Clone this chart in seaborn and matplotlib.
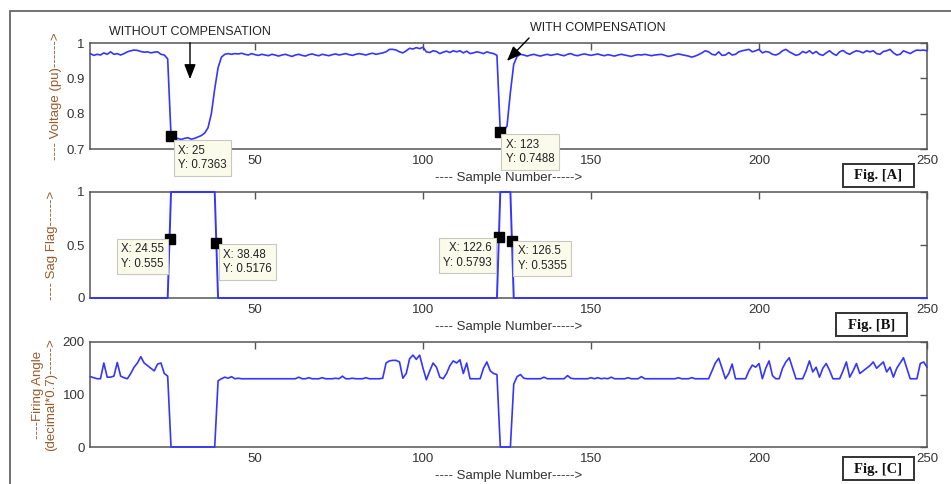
import numpy as np
import pandas as pd
import seaborn as sns
import matplotlib
matplotlib.use("Agg")
import matplotlib.pyplot as plt
from matplotlib.patches import Rectangle

# ---------------- data ----------------
samples = list(range(1, 251))

voltage = [
    0.970, 0.965, 0.968, 0.966, 0.972, 0.968, 0.975, 0.968, 0.970, 0.966,
    0.970, 0.975, 0.978, 0.980, 0.979, 0.976, 0.974, 0.975, 0.972, 0.974,
    0.975, 0.968, 0.966, 0.955, 0.7363, 0.728, 0.730, 0.727, 0.730, 0.732,
    0.728, 0.730, 0.734, 0.738, 0.745, 0.760, 0.800, 0.870, 0.930, 0.960,
    0.968, 0.970, 0.968, 0.970, 0.969, 0.971, 0.968, 0.966, 0.970, 0.967,
    0.965, 0.968, 0.966, 0.964, 0.968, 0.966, 0.963, 0.966, 0.968, 0.965,
    0.962, 0.966, 0.968, 0.965, 0.963, 0.967, 0.969, 0.966, 0.964, 0.968,
    0.966, 0.964, 0.967, 0.969, 0.966, 0.968, 0.970, 0.967, 0.965, 0.968,
    0.970, 0.968, 0.966, 0.969, 0.971, 0.968, 0.970, 0.972, 0.975, 0.982,
    0.982, 0.980, 0.975, 0.972, 0.978, 0.985, 0.983, 0.987, 0.984, 0.988,
    0.975, 0.973, 0.978, 0.976, 0.970, 0.974, 0.977, 0.973, 0.978, 0.975,
    0.978, 0.972, 0.977, 0.970, 0.972, 0.975, 0.973, 0.970, 0.975, 0.972,
    0.970, 0.965, 0.7488, 0.752, 0.765, 0.860, 0.940, 0.962, 0.968, 0.966,
    0.963, 0.966, 0.968, 0.965, 0.963, 0.966, 0.968, 0.965, 0.967, 0.969,
    0.966, 0.964, 0.968, 0.970, 0.966, 0.964, 0.967, 0.969, 0.967, 0.965,
    0.967, 0.969, 0.966, 0.964, 0.967, 0.965, 0.963, 0.966, 0.968, 0.966,
    0.964, 0.962, 0.965, 0.967, 0.966, 0.968, 0.966, 0.964, 0.966, 0.967,
    0.968, 0.965, 0.962, 0.964, 0.967, 0.969, 0.967, 0.965, 0.963, 0.960,
    0.963, 0.967, 0.972, 0.978, 0.975, 0.968, 0.966, 0.975, 0.965, 0.966,
    0.973, 0.966, 0.968, 0.975, 0.978, 0.980, 0.982, 0.975, 0.978, 0.982,
    0.972, 0.976, 0.974, 0.968, 0.966, 0.970, 0.978, 0.982, 0.975, 0.970,
    0.965, 0.968, 0.976, 0.972, 0.978, 0.970, 0.976, 0.968, 0.965, 0.972,
    0.978, 0.970, 0.965, 0.975, 0.979, 0.972, 0.968, 0.974, 0.978, 0.976,
    0.972, 0.978, 0.975, 0.978, 0.970, 0.968, 0.976, 0.978, 0.982, 0.972,
    0.966, 0.968, 0.978, 0.974, 0.970, 0.976, 0.980, 0.979, 0.980, 0.978,
]

sag_flag = (
    [0] * 24 + [1] * 14 + [0] * 84 + [1] * 4 + [0] * 124
)

firing_angle = [
    134, 132, 130, 130, 160, 133, 133, 135, 161, 135,
    132, 130, 140, 152, 160, 172, 160, 155, 150, 145,
    158, 160, 140, 135, 0, 0, 0, 0, 0, 0,
    0, 0, 0, 0, 0, 0, 0, 0, 126, 130,
    133, 131, 134, 130, 131, 130, 130, 130, 130, 130,
    130, 130, 130, 130, 130, 130, 130, 130, 130, 130,
    130, 130, 133, 130, 130, 132, 130, 130, 130, 132,
    130, 130, 130, 131, 130, 135, 130, 130, 131, 130,
    130, 130, 132, 130, 130, 130, 130, 131, 160, 164,
    165, 165, 162, 131, 140, 168, 175, 167, 175, 150,
    128, 145, 160, 152, 133, 130, 140, 155, 164, 160,
    166, 140, 160, 130, 130, 130, 130, 150, 162, 145,
    140, 138, 0, 0, 0, 0, 120, 134, 138, 131,
    130, 130, 130, 130, 130, 133, 130, 130, 130, 130,
    130, 130, 136, 131, 130, 130, 130, 130, 130, 132,
    130, 132, 130, 131, 130, 133, 130, 130, 130, 130,
    132, 130, 130, 130, 134, 130, 130, 130, 130, 130,
    130, 130, 130, 130, 130, 132, 130, 130, 130, 132,
    130, 130, 130, 130, 130, 145, 160, 169, 150, 130,
    140, 158, 130, 130, 130, 130, 145, 156, 152, 159,
    130, 150, 164, 136, 130, 130, 150, 162, 170, 150,
    130, 130, 130, 145, 164, 143, 152, 133, 150, 159,
    146, 130, 130, 130, 145, 162, 133, 145, 159, 140,
    145, 150, 155, 162, 150, 156, 162, 143, 152, 133,
    150, 160, 170, 150, 130, 130, 130, 159, 162, 152,
]

# data tips (x, y, label)
tips_a_x = [25, 123]
tips_a_y = [0.7363, 0.7488]
tips_b_x = [24.55, 38.48, 122.6, 126.5]
tips_b_y = [0.555, 0.5176, 0.5793, 0.5355]
tips_a_lbl = ["X: 25\nY: 0.7363", "X: 123\nY: 0.7488"]
tips_b_lbl = ["X: 24.55\nY: 0.555", "X: 38.48\nY: 0.5176",
              "X: 122.6\nY: 0.5793", "X: 126.5\nY: 0.5355"]

xticks = [50, 100, 150, 200, 250]
yticks_a = [0.7, 0.8, 0.9, 1.0]
yticks_a_lbl = ["0.7", "0.8", "0.9", "1"]
yticks_b = [0, 0.5, 1]
yticks_b_lbl = ["0", "0.5", "1"]
yticks_c = [0, 100, 200]
yticks_c_lbl = ["0", "100", "200"]

df = pd.DataFrame({"sample": samples, "voltage": voltage,
                   "flag": sag_flag, "angle": firing_angle})

# ---------------- style ----------------
sns.set_style("white")
plt.rcParams["font.family"] = ["Liberation Sans", "DejaVu Sans"]

W, H = 951, 484
fig = plt.figure(figsize=(W / 100, H / 100), dpi=100)


def fx(px):
    return px / W


def fy(py):
    return 1 - py / H


LINE = "#3535ff"
SPINE = "#555555"
TICKC = "#333333"
LABC = "#9a5a2c"
AX_L, AX_R = 90.4, 927.0


def make_axes(top, bottom):
    ax = fig.add_axes([fx(AX_L), fy(bottom), fx(AX_R) - fx(AX_L), fy(top) - fy(bottom)])
    return ax


ax_a = make_axes(43, 149)
ax_b = make_axes(192, 298)
ax_c = make_axes(342, 447)

sns.lineplot(data=df, x="sample", y="voltage", ax=ax_a, color=LINE, lw=1.2)
sns.lineplot(data=df, x="sample", y="flag", ax=ax_b, color=LINE, lw=1.4)
sns.lineplot(data=df, x="sample", y="angle", ax=ax_c, color=LINE, lw=1.2)

for ax, (lo, hi), yt, ytl in [
    (ax_a, (0.7, 1.0), yticks_a, yticks_a_lbl),
    (ax_b, (0, 1), yticks_b, yticks_b_lbl),
    (ax_c, (0, 200), yticks_c, yticks_c_lbl),
]:
    ax.set_xlim(1, 250)
    ax.set_ylim(lo, hi)
    ax.set_xticks(xticks)
    ax.set_xticklabels([str(t) for t in xticks])
    ax.set_yticks(yt)
    ax.set_yticklabels(ytl)
    ax.tick_params(direction="in", length=5, width=1, colors=SPINE,
                   labelcolor=TICKC, labelsize=9.5, top=True, right=True,
                   pad=4)
    for sp in ax.spines.values():
        sp.set_color(SPINE)
        sp.set_linewidth(1.1)
        sp.set_visible(True)
    for ln in ax.get_lines():
        ln.set_clip_on(False)
        ln.set_zorder(3)
    ax.set_xlabel("---- Sample Number----->", fontsize=9.5, color=TICKC, labelpad=4)
    ax.set_facecolor("white")


def label_x(px):
    return (px - AX_L) / (AX_R - AX_L)


ax_a.set_ylabel("---- Voltage (pu)------>", fontsize=9.5, color=LABC)
ax_a.yaxis.set_label_coords(label_x(62), 0.5)
ax_b.set_ylabel("---- Sag Flag------>", fontsize=9.5, color=LABC)
ax_b.yaxis.set_label_coords(label_x(58), 0.5)
ax_c.set_ylabel("----Firing Angle\n(decimal*0.7)------>", fontsize=9.5,
                color=LABC, linespacing=1.15)
ax_c.yaxis.set_label_coords(label_x(57), 0.5)

# data tips
box = dict(boxstyle="square,pad=0.38", fc="#fbfbec", ec="#c8c8c0", lw=0.8)
tip_offsets_a = [(5, -6), (4, -5)]
tip_offsets_b = [(-4, -3, "right"), (5, -4, "left"), (-5, -4, "right"), (4, -3, "left")]

for x, y, lbl, (dx, dy) in zip(tips_a_x, tips_a_y, tips_a_lbl, tip_offsets_a):
    ax_a.plot([x], [y], marker="s", ms=6.5, color="black", zorder=5, clip_on=False)
    ax_a.annotate(lbl, xy=(x, y), xytext=(dx, dy), textcoords="offset points",
                  ha="left", va="top", fontsize=8.3, color="#222222", bbox=box,
                  annotation_clip=False, zorder=6, linespacing=1.3)

for x, y, lbl, (dx, dy, ha) in zip(tips_b_x, tips_b_y, tips_b_lbl, tip_offsets_b):
    ax_b.plot([x], [y], marker="s", ms=6.5, color="black", zorder=5, clip_on=False)
    ax_b.annotate(lbl, xy=(x, y), xytext=(dx, dy), textcoords="offset points",
                  ha=ha, va="top", fontsize=8.3, color="#222222", bbox=box,
                  annotation_clip=False, zorder=6, linespacing=1.3)

# compensation annotations (figure-pixel placement)
fig.text(fx(190), fy(32), "WITHOUT COMPENSATION", ha="center", va="center",
         fontsize=9, color="#222222")
ax_a.annotate("", xy=(fx(190), fy(82)), xytext=(fx(190), fy(40)),
              xycoords="figure fraction", textcoords="figure fraction",
              arrowprops=dict(arrowstyle="-|>,head_length=0.9,head_width=0.35",
                              color="black", lw=1.0), annotation_clip=False)
fig.text(fx(530), fy(28), "WITH COMPENSATION", ha="left", va="center",
         fontsize=9, color="#222222")
ax_a.annotate("", xy=(fx(505), fy(63)), xytext=(fx(531), fy(36)),
              xycoords="figure fraction", textcoords="figure fraction",
              arrowprops=dict(arrowstyle="-|>,head_length=0.9,head_width=0.35",
                              color="black", lw=1.0), annotation_clip=False)

# figure tags: rectangle (pixel box) plus centred text
for (x0, y0, x1, y1), tag in [((843, 164, 914, 187), "Fig. [A]"),
                              ((836, 313, 907, 336), "Fig. [B]"),
                              ((843, 457, 914, 480), "Fig. [C]")]:
    fig.add_artist(Rectangle((fx(x0), fy(y1)), fx(x1) - fx(x0), fy(y0) - fy(y1),
                             transform=fig.transFigure, fill=True, fc="white",
                             ec="#333333", lw=1.4))
    fig.text(fx((x0 + x1) / 2), fy((y0 + y1) / 2 + 0.5), tag, ha="center",
             va="center", fontsize=10.5, fontweight="bold",
             family=["Liberation Serif", "DejaVu Serif"], color="#111111")

# outer frame of the screenshot
fig.add_artist(Rectangle((fx(9.5), fy(490)), fx(960) - fx(9.5), fy(10.5) - fy(490),
                         transform=fig.transFigure, fill=False, ec="#666666",
                         lw=1.3, clip_on=False))

fig.savefig("out.png", dpi=100, facecolor="white")
